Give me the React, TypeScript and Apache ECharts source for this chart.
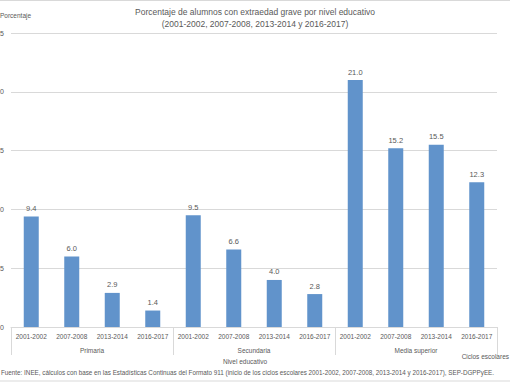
import React, { useEffect, useRef } from "react";
import * as echarts from "echarts";

const ciclos = [
  "2001-2002", "2007-2008", "2013-2014", "2016-2017",
  "2001-2002", "2007-2008", "2013-2014", "2016-2017",
  "2001-2002", "2007-2008", "2013-2014", "2016-2017",
];
const niveles = ["Primaria", "Secundaria", "Media superior"];
const porcentajes = [9.4, 6.0, 2.9, 1.4, 9.5, 6.6, 4.0, 2.8, 21.0, 15.2, 15.5, 12.3];
const yTicks = { min: 0, max: 25, interval: 5 };

const titulo1 = "Porcentaje de alumnos con extraedad grave por nivel educativo";
const titulo2 = "(2001-2002, 2007-2008, 2013-2014 y 2016-2017)";
const fuente =
  "Fuente: INEE, cálculos con base en las Estadísticas Continuas del Formato 911 (inicio de los ciclos escolares 2001-2002, 2007-2008, 2013-2014 y 2016-2017), SEP-DGPPyEE.";

const FONT = "'Liberation Sans', Arial, sans-serif";
const TXT = "#595959";
const LINE = "#d9d9d9";

export default function App() {
  const ref = useRef<HTMLDivElement>(null);
  useEffect(() => {
    if (!ref.current) return;
    const chart = echarts.init(ref.current, undefined, { renderer: "svg" });
    chart.setOption({
      animation: false,
      backgroundColor: "#ffffff",
      textStyle: { fontFamily: FONT },
      grid: { left: 11, right: 13, top: 33, bottom: 55, outerBoundsMode: "none", containLabel: false },
      xAxis: [
        {
          type: "category",
          data: ciclos,
          axisLine: { show: true, lineStyle: { color: LINE } },
          axisTick: { show: false },
          axisLabel: { interval: 0, color: TXT, fontSize: 6.5, margin: 5.5, fontFamily: FONT },
        },
        {
          type: "category",
          data: niveles,
          position: "bottom",
          axisLine: { show: false },
          axisTick: { show: true, interval: 0, length: 28, lineStyle: { color: LINE } },
          axisLabel: { interval: 0, color: TXT, fontSize: 6.5, margin: 19.5, fontFamily: FONT },
        },
      ],
      yAxis: {
        type: "value",
        min: yTicks.min,
        max: yTicks.max,
        interval: yTicks.interval,
        axisLine: { show: false },
        axisTick: { show: false },
        splitLine: { lineStyle: { color: LINE } },
        axisLabel: { color: TXT, fontSize: 7, margin: 7, fontFamily: FONT },
      },
      series: [
        {
          type: "bar",
          xAxisIndex: 0,
          data: porcentajes,
          barWidth: 15,
          itemStyle: { color: "#6193cb" },
          label: {
            show: true,
            position: "top",
            distance: 4,
            color: TXT,
            fontSize: 7.5,
            fontFamily: FONT,
            formatter: (p: any) => Number(p.value).toFixed(1),
          },
        },
      ],
      graphic: [
        {
          type: "rect",
          shape: { x: -1, y: 0.5, width: 512, height: 380.5 },
          style: { fill: "none", stroke: LINE, lineWidth: 1 },
          silent: true,
        },
        {
          type: "text",
          x: 255, y: 12,
          style: { text: titulo1, fill: TXT, fontSize: 8.5, fontFamily: FONT, align: "center", verticalAlign: "middle" },
        },
        {
          type: "text",
          x: 255, y: 24,
          style: { text: titulo2, fill: TXT, fontSize: 8.5, fontFamily: FONT, align: "center", verticalAlign: "middle" },
        },
        {
          type: "text",
          x: 0, y: 15,
          style: { text: "Porcentaje", fill: TXT, fontSize: 6.5, fontFamily: FONT, align: "left", verticalAlign: "middle" },
        },
        {
          type: "text",
          x: 245, y: 361,
          style: { text: "Nivel educativo", fill: TXT, fontSize: 6.5, fontFamily: FONT, align: "center", verticalAlign: "middle" },
        },
        {
          type: "text",
          x: 509, y: 356,
          style: { text: "Ciclos escolares", fill: TXT, fontSize: 6.5, fontFamily: FONT, align: "right", verticalAlign: "middle" },
        },
        {
          type: "text",
          x: 1, y: 372,
          style: { text: fuente, fill: TXT, fontSize: 6.3, fontFamily: FONT, align: "left", verticalAlign: "middle" },
        },
      ],
    });
    return () => chart.dispose();
  }, []);
  return <div ref={ref} style={{ width: 510, height: 382, position: "absolute", left: 0, top: 0 }} />;
}
